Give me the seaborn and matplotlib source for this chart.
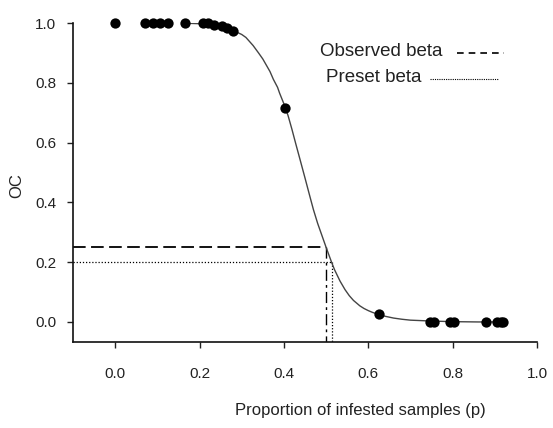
import matplotlib
matplotlib.use("Agg")
import matplotlib.pyplot as plt
import seaborn as sns
import pandas as pd
from matplotlib.lines import Line2D

# Observed points (proportion infested, OC)
obs_p = [0.0, 0.071, 0.09, 0.107, 0.126, 0.166, 0.209, 0.22, 0.235, 0.254, 0.265, 0.28,
         0.403, 0.625, 0.746, 0.755, 0.794, 0.803, 0.879, 0.905, 0.914, 0.92]
obs_oc = [1.0, 1.0, 1.0, 1.0, 1.0, 1.0, 1.0, 1.0, 0.995, 0.99, 0.985, 0.975,
          0.717, 0.027, 0.0, 0.0, 0.0, 0.0, 0.0, 0.0, 0.0, 0.0]

# Fitted OC curve
curve_p = [0.16, 0.20, 0.24, 0.26, 0.28, 0.30, 0.31, 0.327, 0.34, 0.35, 0.367, 0.375,
           0.385, 0.39, 0.40, 0.41, 0.419, 0.428, 0.438, 0.45, 0.462, 0.47, 0.48,
           0.49, 0.50, 0.513, 0.52, 0.533, 0.545, 0.555, 0.565, 0.58, 0.59, 0.60,
           0.61, 0.625, 0.64, 0.66, 0.68, 0.70, 0.75, 0.80, 0.86, 0.92]
curve_oc = [1.0, 0.998, 0.992, 0.985, 0.975, 0.962, 0.952, 0.925, 0.90, 0.88, 0.838, 0.812,
            0.785, 0.765, 0.73, 0.69, 0.645, 0.597, 0.545, 0.482, 0.418, 0.376, 0.33,
            0.29, 0.25, 0.20, 0.175, 0.137, 0.108, 0.088, 0.072, 0.054, 0.045, 0.038,
            0.032, 0.025, 0.019, 0.013, 0.009, 0.006, 0.003, 0.001, 0.0, 0.0]

observed_beta = 0.25
observed_p = 0.50
preset_beta = 0.20
preset_p = 0.513

xticks = [0.0, 0.2, 0.4, 0.6, 0.8, 1.0]
yticks = [0.0, 0.2, 0.4, 0.6, 0.8, 1.0]

sns.set_style("ticks")
plt.rcParams['font.family'] = ['Liberation Sans', 'DejaVu Sans']

fig = plt.figure(figsize=(5.53, 4.28), dpi=100)
ax = fig.add_axes([0.132, 0.201, 0.839, 0.745])

df_pts = pd.DataFrame({"p": obs_p, "oc": obs_oc})
df_curve = pd.DataFrame({"p": curve_p, "oc": curve_oc})

sns.lineplot(data=df_curve, x="p", y="oc", ax=ax, color="#444444", lw=1.0,
             sort=True, estimator=None, zorder=2)
sns.scatterplot(data=df_pts, x="p", y="oc", ax=ax, color="black", s=55,
                edgecolor="black", linewidth=0, zorder=3, clip_on=False)

ax.set_xlim(-0.1, 1.0)
ax.set_ylim(-0.067, 1.0)

ymin = ax.get_ylim()[0]
xmin = ax.get_xlim()[0]
# Observed beta lines
ax.plot([xmin, observed_p], [observed_beta, observed_beta], color="black",
        lw=1.3, linestyle=(0, (7, 3)), zorder=1)
ax.plot([observed_p, observed_p], [observed_beta, ymin], color="black",
        lw=1.0, linestyle=(0, (8, 3, 2, 3)), zorder=1)
# Preset beta lines
ax.plot([xmin, preset_p], [preset_beta, preset_beta], color="black",
        lw=0.9, linestyle=(0, (1, 1.5)), zorder=1)
ax.plot([preset_p, preset_p], [preset_beta, ymin], color="black",
        lw=0.9, linestyle=(0, (1, 1.5)), zorder=1)

ax.set_xticks(xticks)
ax.set_yticks(yticks)
ax.set_xticklabels([f"{t:.1f}" for t in xticks])
ax.set_yticklabels([f"{t:.1f}" for t in yticks])
ax.tick_params(axis="both", labelsize=11, length=4, width=1.0, colors="#222222", pad=8)
ax.tick_params(axis="x", pad=14)

ax.set_xlabel("Proportion of infested samples (p)", fontsize=12, color="#222222")
ax.set_ylabel("OC", fontsize=12, color="#222222")
ax.xaxis.set_label_coords(0.62, -0.19)
ax.yaxis.set_label_coords(-0.105, 0.49)

for side in ["top", "right"]:
    ax.spines[side].set_visible(False)
for side in ["left", "bottom"]:
    ax.spines[side].set_linewidth(1.2)
    ax.spines[side].set_color("#111111")

# Legend as text with sample lines
ax.text(0.533, 0.912, "Observed beta", transform=ax.transAxes, fontsize=13.5,
        color="#222222", va="center", ha="left")
ax.add_line(Line2D([0.828, 0.93], [0.905, 0.905], transform=ax.transAxes,
                   color="black", lw=1.2, linestyle=(0, (4, 3))))
ax.text(0.546, 0.83, "Preset beta", transform=ax.transAxes, fontsize=13.5,
        color="#222222", va="center", ha="left")
ax.add_line(Line2D([0.77, 0.915], [0.825, 0.825], transform=ax.transAxes,
                   color="black", lw=0.8, linestyle=(0, (1, 1))))

fig.savefig("out.png", dpi=100)
